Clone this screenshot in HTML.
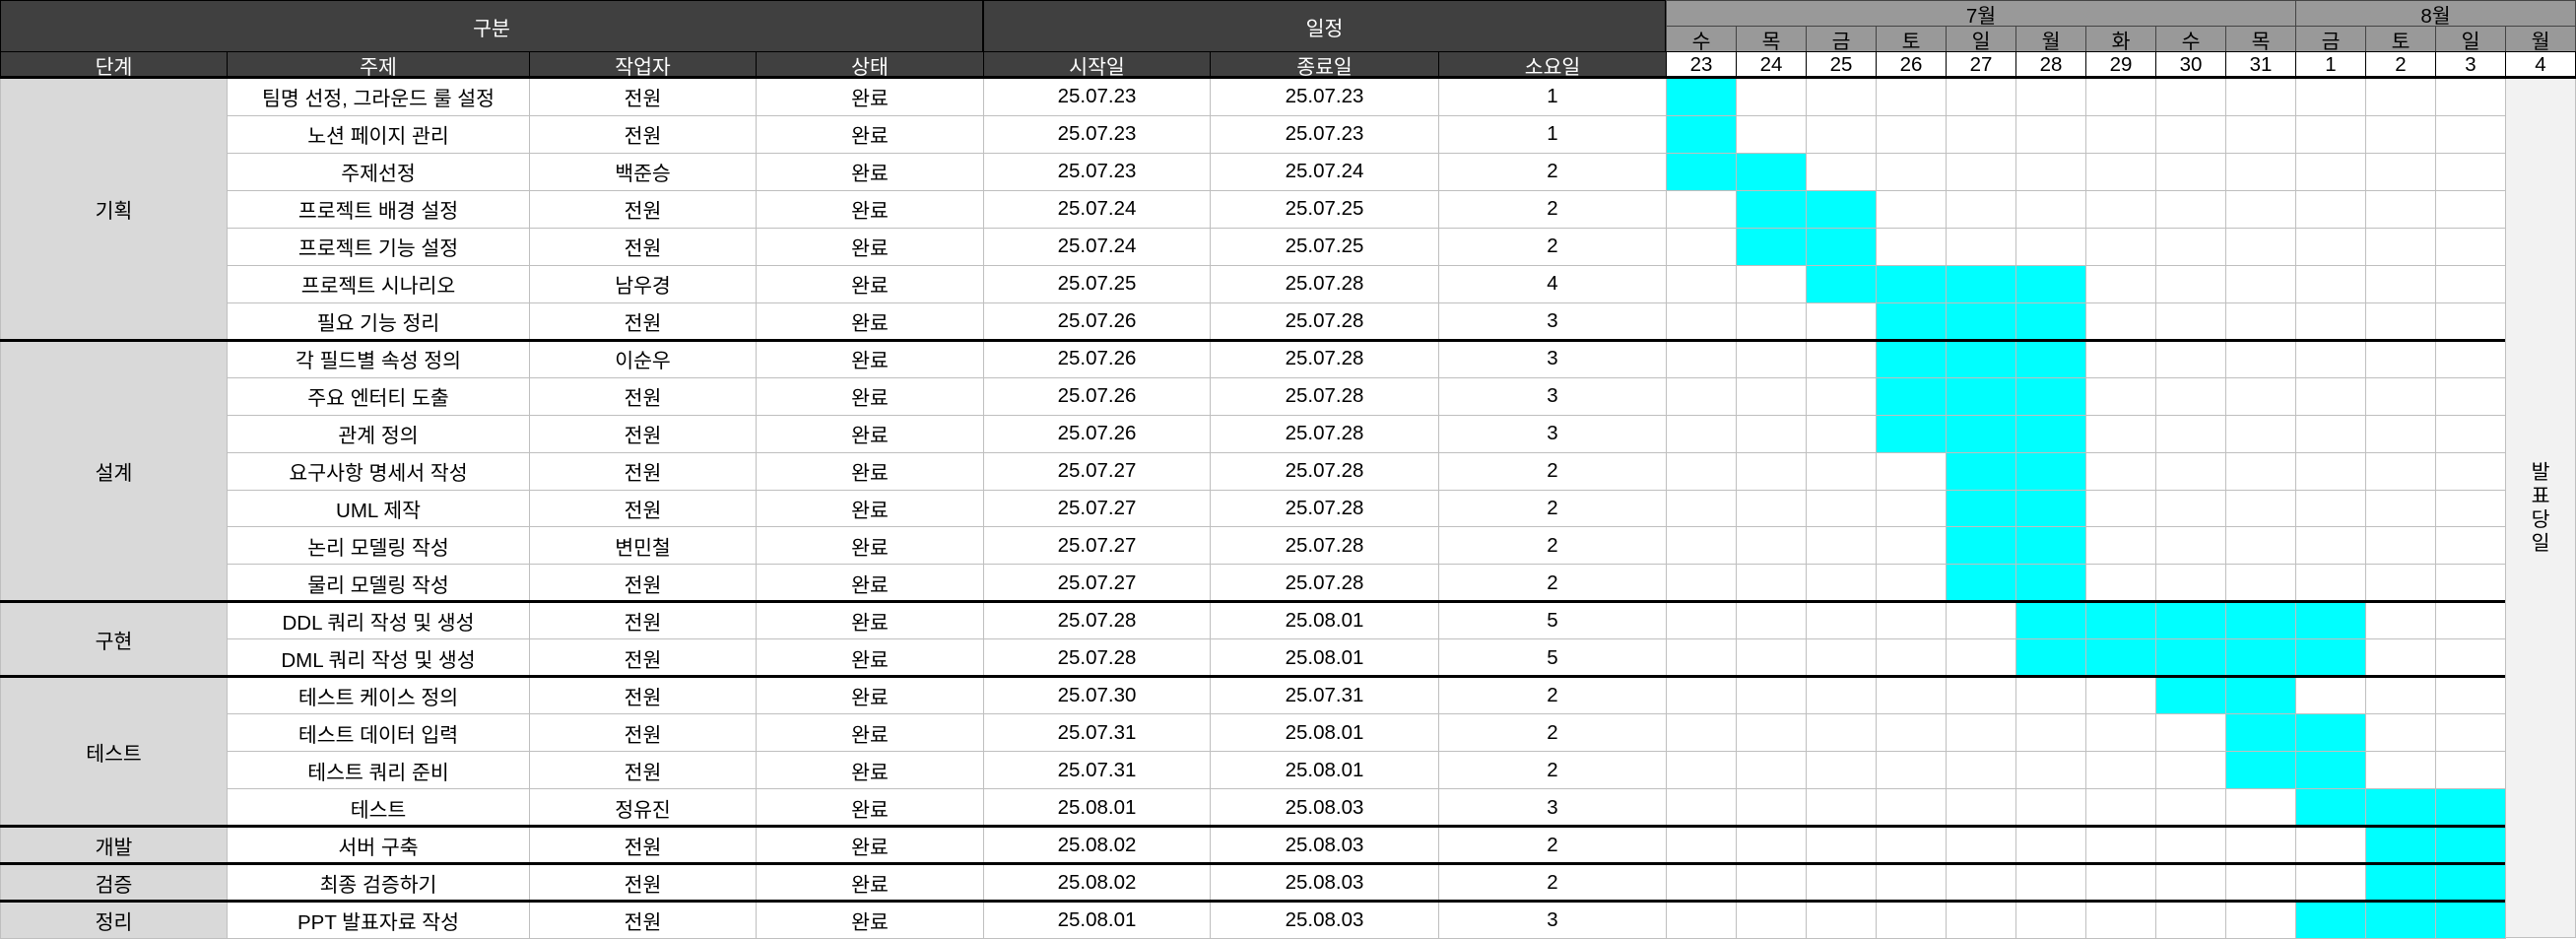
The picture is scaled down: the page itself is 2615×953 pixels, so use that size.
<!DOCTYPE html>
<html><head><meta charset="utf-8">
<style>
body{margin:0;width:2615px;height:952px;overflow:hidden;background:#fff;font-family:"Liberation Sans","Noto Sans CJK KR",sans-serif;}
#root{position:relative;width:2615px;height:952px;}
.c{position:absolute;box-sizing:border-box;display:flex;align-items:center;justify-content:center;font-size:20.5px;color:#000;white-space:nowrap;}
.hl{position:absolute;background:#000;}
</style></head>
<body><div id="root"></div>
<script>
const days=['23','24','25','26','27','28','29','30','31','1','2','3','4'];
const weekdays=['수','목','금','토','일','월','화','수','목','금','토','일','월'];
const dayKeys=['25.07.23','25.07.24','25.07.25','25.07.26','25.07.27','25.07.28','25.07.29','25.07.30','25.07.31','25.08.01','25.08.02','25.08.03','25.08.04'];
const groups=[['기획',7],['설계',7],['구현',2],['테스트',4],['개발',1],['검증',1],['정리',1]];
const topics=['팀명 선정, 그라운드 룰 설정','노션 페이지 관리','주제선정','프로젝트 배경 설정','프로젝트 기능 설정','프로젝트 시나리오','필요 기능 정리','각 필드별 속성 정의','주요 엔터티 도출','관계 정의','요구사항 명세서 작성','UML 제작','논리 모델링 작성','물리 모델링 작성','DDL 쿼리 작성 및 생성','DML 쿼리 작성 및 생성','테스트 케이스 정의','테스트 데이터 입력','테스트 쿼리 준비','테스트','서버 구축','최종 검증하기','PPT 발표자료 작성'];
const workers=['전원','전원','백준승','전원','전원','남우경','전원','이순우','전원','전원','전원','전원','변민철','전원','전원','전원','전원','전원','전원','정유진','전원','전원','전원'];
const starts=['25.07.23','25.07.23','25.07.23','25.07.24','25.07.24','25.07.25','25.07.26','25.07.26','25.07.26','25.07.26','25.07.27','25.07.27','25.07.27','25.07.27','25.07.28','25.07.28','25.07.30','25.07.31','25.07.31','25.08.01','25.08.02','25.08.02','25.08.01'];
const ends=['25.07.23','25.07.23','25.07.24','25.07.25','25.07.25','25.07.28','25.07.28','25.07.28','25.07.28','25.07.28','25.07.28','25.07.28','25.07.28','25.07.28','25.08.01','25.08.01','25.07.31','25.08.01','25.08.01','25.08.03','25.08.03','25.08.03','25.08.03'];
const durations=[1,1,2,2,2,4,3,3,3,3,2,2,2,2,5,5,2,2,2,3,2,2,3];

const root=document.getElementById('root');
const colX=[0,230,537,767,998,1228,1460,1691];
const G0=1691,DW=71,TOP=79,RH=(952-79)/23;
function cell(x,y,w,h,txt,bg,color,border,name){
  const d=document.createElement('div');d.className='c';
  d.style.left=x+'px';d.style.top=y+'px';d.style.width=w+'px';d.style.height=h+'px';
  if(bg)d.style.background=bg;if(color)d.style.color=color;
  d.style.border=border||'none';
  if(txt!==null&&txt!==undefined)d.textContent=txt;
  
  
  root.appendChild(d);return d;
}
cell(0,0,998,53,'구분','#404040','#fff','1px solid #000','header-gubun');
cell(998,0,693,53,'일정','#404040','#fff','1px solid #000','header-schedule');
const hdr=['단계','주제','작업자','상태','시작일','종료일','소요일'];
for(let i=0;i<7;i++)cell(colX[i],52,colX[i+1]-colX[i]+1,27,hdr[i],'#404040','#fff','1px solid #000','header-'+i);
cell(G0,0,9*DW+1,27,'7월','#999','#000','1px solid #444','month-july');
cell(G0+9*DW,0,2615-G0-9*DW,27,'8월','#999','#000','1px solid #444','month-august');
for(let i=0;i<days.length;i++){
  cell(G0+i*DW,26,DW+1,27,weekdays[i],'#999','#000','1px solid #444','weekday-'+days[i]);
  cell(G0+i*DW,52,DW+1,27,days[i],'#fff','#000','1px solid #000','date-'+days[i]);
}
for(let r=0;r<23;r++){
  const y=TOP+r*RH;
  const vals=[topics[r],workers[r],'완료',starts[r],ends[r],String(durations[r])];
  for(let c=1;c<7;c++)cell(colX[c],y,colX[c+1]-colX[c]+1,RH+1,vals[c-1],'#fff','#000','1px solid #bfbfbf','row'+r+'-col'+c);
  const si=dayKeys.indexOf(starts[r]),ei=dayKeys.indexOf(ends[r]);
  for(let d=0;d<12;d++){
    const on=d>=si&&d<=ei;
    cell(G0+d*DW,y,DW+1,RH+1,null,on?'#00ffff':'#fff',null,'1px solid #bfbfbf',on?'gantt-bar-'+r+'-'+d:'gantt-cell-'+r+'-'+d);
  }
}
const pres=cell(G0+12*DW,TOP,2615-G0-12*DW,952-TOP,'','#f2f2f2','#000','1px solid #bfbfbf','presentation-day');
pres.innerHTML='발<br>표<br>당<br>일';pres.style.lineHeight='24px';pres.style.textAlign='center';
let r0=0;
groups.forEach((g,i)=>{
  cell(0,TOP+r0*RH,231,g[1]*RH+1,g[0],'#d9d9d9','#000','1px solid #bfbfbf','stage-'+i);
  if(r0>0){const l=document.createElement('div');l.className='hl';l.style.left='0px';l.style.width=(G0+12*DW)+'px';l.style.top=(TOP+r0*RH-1)+'px';l.style.height='3px';
    
    
    root.appendChild(l);}
  r0+=g[1];
});
const hl=document.createElement('div');hl.className='hl';hl.style.left='0px';hl.style.width='2615px';hl.style.top='77px';hl.style.height='3px';


root.appendChild(hl);
</script>
</body></html>
